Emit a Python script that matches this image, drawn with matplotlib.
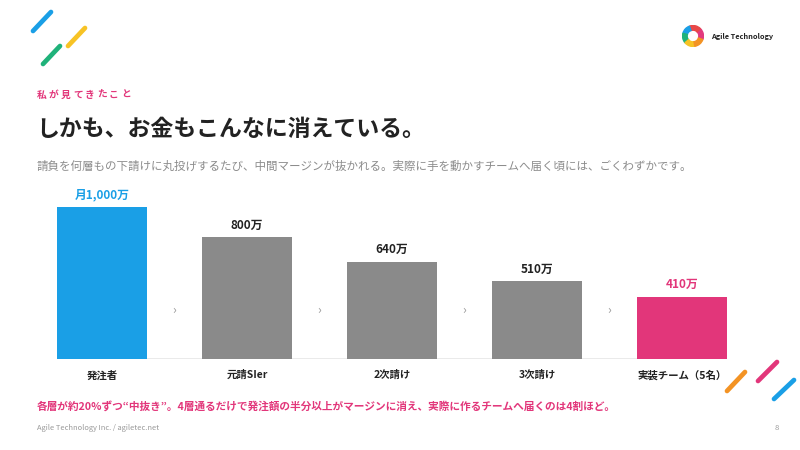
import matplotlib
matplotlib.use("Agg")
import matplotlib.pyplot as plt
from matplotlib.patches import Wedge

plt.rcParams["font.family"] = ["Noto Sans CJK JP", "DejaVu Sans"]

# データ
categories = ["発注者", "元請SIer", "2次請け", "3次請け", "実装チーム（5名）"]
values = [1000, 800, 640, 510, 410]
value_labels = ["月1,000万", "800万", "640万", "510万", "410万"]

kicker = "私が見てきたこと"
title = "しかも、お金もこんなに消えている。"
subtitle = ("請負を何層もの下請けに丸投げするたび、中間マージンが抜かれる。"
            "実際に手を動かすチームへ届く頃には、ごくわずかです。")
note = ("各層が約20%ずつ“中抜き”。4層通るだけで発注額の半分以上がマージンに消え、"
        "実際に作るチームへ届くのは4割ほど。")
footer = "Agile Technology Inc. / agiletec.net"
page_no = "8"

BLUE = "#1a9fe6"
GRAY = "#8a8a8a"
PINK = "#e2367a"
DARK = "#222222"
bar_colors = [BLUE, GRAY, GRAY, GRAY, PINK]
label_colors = [BLUE, DARK, DARK, DARK, PINK]

fig = plt.figure(figsize=(8, 4.5), dpi=100)
fig.patch.set_facecolor("white")

# 背景用（ピクセル座標）
bg = fig.add_axes([0, 0, 1, 1])
bg.set_xlim(0, 800)
bg.set_ylim(450, 0)
bg.axis("off")

# 飾りの線
strokes = [
    ((33, 31), (51, 12), BLUE), ((43, 64), (60, 46), "#1fb27a"),
    ((68, 46), (85, 28), "#f7c325"),
    ((727, 391), (745, 372), "#f39324"), ((758, 381), (777, 362), PINK),
    ((774, 399), (794, 380), BLUE),
]
for (x1, y1), (x2, y2), c in strokes:
    bg.plot([x1, x2], [y1, y2], color=c, lw=3.4, solid_capstyle="round")

# ロゴ
logo = fig.add_axes([682 / 800, 1 - 47 / 450, 22 / 800, 22 / 450])
logo.set_xlim(-1, 1)
logo.set_ylim(-1, 1)
logo.set_aspect("equal")
logo.axis("off")
ring = [(-20, 45, "#e23a7e"), (45, 110, "#e84848"), (110, 165, BLUE),
        (165, 220, "#1fb27a"), (220, 280, "#f7c325"), (280, 340, "#f39324")]
for a1, a2, c in ring:
    logo.add_patch(Wedge((0, 0), 0.95, a1, a2, width=0.42, color=c))
bg.text(711, 36, "Agile Technology", fontsize=5.3, fontweight="bold",
        color=DARK, ha="left", va="center")

# 見出し
for i, ch in enumerate(kicker):
    bg.text(37 + i * 12.0, 95, ch, fontsize=7, fontweight="bold", color=PINK,
            ha="left", va="center")
bg.text(36, 129, title, fontsize=16.5, fontweight="bold", color=DARK,
        ha="left", va="center")
bg.text(37, 166, subtitle, fontsize=8.3, color="#8c8c8c", ha="left", va="center")

# 棒グラフ
ax = fig.add_axes([57 / 800, 1 - 359 / 450, 670 / 800, 167.2 / 450])
x = list(range(len(categories)))
ax.bar(x, values, width=0.62, color=bar_colors, zorder=2)
ax.set_xlim(-0.31, 4.31)
ax.set_ylim(0, 1100)
ax.axhline(0, color="#e8e8e8", lw=2, zorder=1)
for s in ax.spines.values():
    s.set_visible(False)
ax.set_yticks([])
ax.set_xticks(x)
ax.set_xticklabels(categories, fontsize=7.5, fontweight="bold", color=DARK)
ax.tick_params(axis="x", length=0, pad=8)

for xi, v, lab, c in zip(x, values, value_labels, label_colors):
    ax.annotate(lab, (xi, v), xytext=(0, 4), textcoords="offset points",
                ha="center", va="bottom", fontsize=8.5, fontweight="bold",
                color=c, annotation_clip=False)

for xi in x[:-1]:
    ax.text(xi + 0.5, 320, "›", ha="center", va="center", fontsize=9,
            color="#999999")

# 注記とフッター
bg.text(37, 406, note, fontsize=7.7, fontweight="bold", color=PINK,
        ha="left", va="center")
bg.text(37, 428, footer, fontsize=5.4, color="#999999", ha="left", va="center")
bg.text(777, 428, page_no, fontsize=5.5, color="#999999", ha="center", va="center")

fig.savefig("out.png", dpi=100, facecolor="white")
